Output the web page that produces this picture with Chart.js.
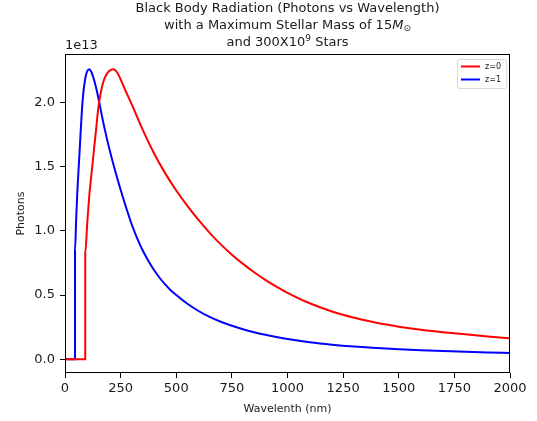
<!DOCTYPE html>
<html>
<head>
<meta charset="utf-8">
<script src="https://cdn.jsdelivr.net/npm/chart.js@4"></script>
<style>
  html, body { margin: 0; padding: 0; background: #fff; }
  #wrap { width: 537px; height: 421px; }
</style>
</head>
<body>
<div id="wrap"><canvas id="chart" width="537" height="421"></canvas></div>
<script>
// ===== DATA (photons in units of 1e13) =====
const redNm = [0, 91, 91, 100, 110, 120, 130, 140, 150, 160, 172, 185, 200, 217, 230, 245, 260, 280, 300,
  350, 400, 450, 500, 550, 600, 650, 700, 750, 800, 850, 900, 950, 1000,
  1100, 1200, 1300, 1400, 1500, 1600, 1700, 1800, 1900, 2000];
const redPhotons = [0, 0, 0.83, 1.06, 1.29, 1.46, 1.63, 1.795, 1.96, 2.07, 2.16, 2.215, 2.248, 2.26, 2.245, 2.20, 2.14, 2.062, 1.985,
  1.785, 1.605, 1.45, 1.315, 1.195, 1.085, 0.985, 0.895, 0.815, 0.743, 0.678, 0.619, 0.566, 0.518,
  0.436, 0.372, 0.323, 0.284, 0.254, 0.230, 0.211, 0.194, 0.178, 0.163];

const blueNm = [0, 45, 45, 50, 55, 60, 65, 70, 75, 80, 86, 93, 100, 108, 118, 130, 142, 154,
  175, 200, 225, 250, 275, 300, 325, 350, 375, 400, 425, 450, 475,
  500, 550, 600, 650, 700, 750, 800, 850, 900, 950, 1000,
  1100, 1200, 1300, 1400, 1500, 1600, 1700, 1800, 1900, 2000];
const bluePhotons = [0, 0, 0.85, 1.08, 1.29, 1.45, 1.60, 1.76, 1.91, 2.03, 2.13, 2.205, 2.245, 2.26, 2.24, 2.18, 2.10, 2.00,
  1.82, 1.635, 1.47, 1.32, 1.18, 1.05, 0.94, 0.845, 0.765, 0.695, 0.635, 0.583, 0.538,
  0.50, 0.432, 0.376, 0.330, 0.292, 0.261, 0.234, 0.211, 0.191, 0.173, 0.158,
  0.133, 0.114, 0.099, 0.087, 0.078, 0.070, 0.064, 0.058, 0.053, 0.049];

const seriesLabels = ["z=0", "z=1"];
const xTicks = [0, 250, 500, 750, 1000, 1250, 1500, 1750, 2000];
const yTicks = [0.0, 0.5, 1.0, 1.5, 2.0];

const FONT = "DejaVu Sans";
const TXT = "#1a1a1a";

function toPoints(xs, ys) {
  return xs.map((x, i) => ({ x: x, y: ys[i] }));
}

// ===== EXTRAS: frame, title, offset text, legend =====
const extras = {
  id: "extras",
  afterDraw(chart) {
    const c = chart.ctx;
    const a = chart.chartArea;
    c.save();
    // frame
    c.strokeStyle = "#000";
    c.lineWidth = 1;
    c.strokeRect(Math.round(a.left) + 0.5, Math.round(a.top) + 0.5,
      Math.round(a.right - a.left) - 1, Math.round(a.bottom - a.top) - 1);

    // title
    c.fillStyle = TXT;
    c.textBaseline = "middle";
    const cx = (a.left + a.right) / 2;
    function runs(parts, y) {
      let w = 0;
      parts.forEach(p => { c.font = p.f; w += c.measureText(p.t).width; });
      let x = cx - w / 2;
      c.textAlign = "left";
      parts.forEach(p => {
        c.font = p.f;
        c.fillText(p.t, x, y + (p.dy || 0));
        x += c.measureText(p.t).width;
      });
    }
    const f = "13px '" + FONT + "'";
    runs([{ t: "Black Body Radiation (Photons vs Wavelength)", f: f }], 9);
    runs([{ t: "with a Maximum Stellar Mass of 15", f: f },
          { t: "M", f: "italic 13px '" + FONT + "'" },
          { t: "\u2299", f: "9px '" + FONT + "'", dy: 3 }], 26);
    runs([{ t: "and 300X10", f: f },
          { t: "9", f: "9px '" + FONT + "'", dy: -4 },
          { t: " Stars", f: f }], 43);

    // offset text
    c.font = "13px '" + FONT + "'";
    c.textAlign = "left";
    c.fillText("1e13", a.left, 46);

    // legend
    const lx = 457, ly = 59, lw = 49, lh = 29;
    c.fillStyle = "rgba(255,255,255,0.8)";
    c.strokeStyle = "#d9d9d9";
    c.lineWidth = 1;
    c.beginPath();
    c.roundRect(lx + 0.5, ly + 0.5, lw, lh, 2);
    c.fill();
    c.stroke();
    c.font = "8px '" + FONT + "'";
    chart.data.datasets.forEach((ds, i) => {
      const yy = ly + 7.5 + i * 13;
      c.strokeStyle = ds.borderColor;
      c.lineWidth = 2;
      c.beginPath();
      c.moveTo(lx + 4, yy);
      c.lineTo(lx + 23, yy);
      c.stroke();
      c.fillStyle = TXT;
      c.fillText(ds.label, lx + 28, yy);
    });
    c.restore();
  }
};

// ===== CHART =====
const ctx = document.getElementById("chart").getContext("2d");

new Chart(ctx, {
  type: "scatter",
  data: {
    datasets: [{
      label: seriesLabels[0],
      data: toPoints(redNm, redPhotons),
      borderColor: "#ff0000",
      borderWidth: 2,
      showLine: true,
      pointRadius: 0,
      cubicInterpolationMode: "monotone"
    }, {
      label: seriesLabels[1],
      data: toPoints(blueNm, bluePhotons),
      borderColor: "#0000ff",
      borderWidth: 2,
      showLine: true,
      pointRadius: 0,
      cubicInterpolationMode: "monotone"
    }]
  },
  options: {
    responsive: false,
    animation: false,
    layout: { padding: { top: 54, right: 27, left: 15, bottom: 5 } },
    plugins: {
      legend: { display: false },
      title: { display: false },
      tooltip: { enabled: false }
    },
    scales: {
      x: {
        type: "linear",
        min: 0,
        max: 2000,
        afterFit: s => { s.height = 43; },
        afterBuildTicks: s => { s.ticks = xTicks.map(v => ({ value: v })); },
        grid: { drawOnChartArea: false, drawTicks: true, tickLength: 5, color: "#000" },
        border: { display: false },
        ticks: { color: TXT, font: { family: FONT, size: 13 }, padding: 3, maxRotation: 0, callback: v => String(v) },
        title: { display: true, text: "Wavelenth (nm)", color: TXT, font: { family: FONT, size: 11 }, padding: { top: 0, bottom: 0 } }
      },
      y: {
        type: "linear",
        min: -0.107,
        max: 2.378,
        afterFit: s => { s.width = 50; },
        afterBuildTicks: s => { s.ticks = yTicks.map(v => ({ value: v })); },
        grid: { drawOnChartArea: false, drawTicks: true, tickLength: 5, color: "#000" },
        border: { display: false },
        ticks: { color: TXT, font: { family: FONT, size: 13 }, padding: 5, callback: v => v.toFixed(1) },
        title: { display: true, text: "Photons", color: TXT, font: { family: FONT, size: 11 }, padding: { top: 0, bottom: 0 } }
      }
    }
  },
  plugins: [extras]
});
</script>
</body>
</html>
